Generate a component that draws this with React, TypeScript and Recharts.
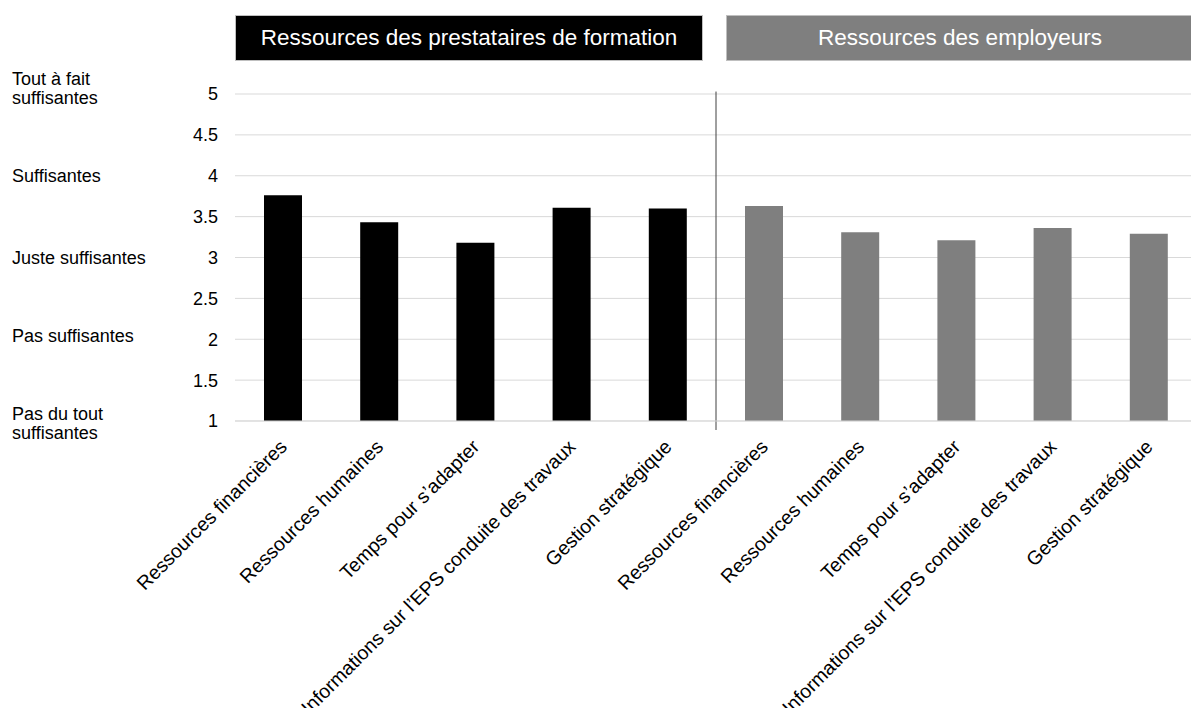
import React from 'react';
import {
  BarChart,
  Bar,
  Cell,
  XAxis,
  YAxis,
  CartesianGrid,
  ReferenceLine,
} from 'recharts';

const categories = [
  'Ressources financières',
  'Ressources humaines',
  'Temps pour s\u2019adapter',
  'Informations sur l\u2019EPS conduite des travaux',
  'Gestion stratégique',
];

const prestataires = [3.76, 3.43, 3.18, 3.61, 3.6];
const employeurs = [3.63, 3.31, 3.21, 3.36, 3.29];

const groupTitles = ['Ressources des prestataires de formation', 'Ressources des employeurs'];
const groupColors = ['#000000', '#7f7f7f'];

const yTicks = [1, 1.5, 2, 2.5, 3, 3.5, 4, 4.5, 5];
const scaleLabels: Record<number, string[]> = {
  5: ['Tout à fait', 'suffisantes'],
  4: ['Suffisantes'],
  3: ['Juste suffisantes'],
  2: ['Pas suffisantes'],
  1: ['Pas du tout', 'suffisantes'],
};
// small vertical nudges so the scale labels sit like in the source
const labelShift: Record<number, number> = { 5: -6, 4: 0, 3: 0, 2: -4, 1: 2 };

const rows = [
  ...prestataires.map((v, i) => ({ idx: i, label: categories[i], value: v, group: 0 })),
  ...employeurs.map((v, i) => ({ idx: i + 5, label: categories[i], value: v, group: 1 })),
];

const FONT = '"Liberation Sans", Arial, sans-serif';

const YTick = (props: any) => {
  const { x, y, payload } = props;
  const lines = scaleLabels[payload.value];
  const shift = labelShift[payload.value] || 0;
  return (
    <g>
      <text x={x} y={y} dy="0.36em" textAnchor="end" fill="#000" fontSize={18} fontFamily={FONT}>
        {payload.value}
      </text>
      {lines &&
        lines.map((l, i) => (
          <text
            key={i}
            x={12}
            y={y + shift + (i - (lines.length - 1) / 2) * 19}
            dy="0.36em"
            fill="#000"
            fontSize={18}
            fontFamily={FONT}
          >
            {l}
          </text>
        ))}
    </g>
  );
};

const XTick = (props: any) => {
  const { x, y, payload } = props;
  const row = rows[payload.value];
  if (!row) return null;
  return (
    <text
      transform={`translate(${x + 5},${y + 27}) rotate(-45)`}
      textAnchor="end"
      fill="#000"
      fontSize={19.5}
      fontFamily={FONT}
    >
      {row.label}
    </text>
  );
};

const headerStyle = (i: number): React.CSSProperties => ({
  position: 'absolute',
  top: 15,
  left: i === 0 ? 235 : 726,
  width: 468,
  height: 46,
  boxSizing: 'border-box',
  background: groupColors[i],
  border: '1px solid #bfbfbf',
  color: '#fff',
  fontFamily: FONT,
  fontSize: 22.5,
  display: 'flex',
  alignItems: 'center',
  justifyContent: 'center',
});

const App: React.FC = () => {
  return (
    <div
      style={{
        position: 'absolute',
        top: 0,
        left: 0,
        width: 1191,
        height: 708,
        overflow: 'hidden',
        background: '#fff',
      }}
    >
      <BarChart
        width={1200}
        height={708}
        data={rows}
        margin={{ top: 94, right: 3, left: 0, bottom: 0 }}
      >
        <CartesianGrid vertical={false} stroke="#d9d9d9" />
        <XAxis
          dataKey="idx"
          type="number"
          domain={[-0.5, 9.5]}
          ticks={[0, 1, 2, 3, 4, 5, 6, 7, 8, 9]}
          interval={0}
          height={287}
          tickLine={false}
          tickSize={0}
          tickMargin={0}
          axisLine={{ stroke: '#d9d9d9' }}
          tick={<XTick />}
        />
        <YAxis
          width={235}
          domain={[1, 5]}
          ticks={yTicks}
          interval={0}
          axisLine={false}
          tickLine={false}
          tickSize={0}
          tickMargin={17}
          tick={<YTick />}
        />
        <Bar dataKey="value" barSize={38} isAnimationActive={false}>
          {rows.map((r) => (
            <Cell key={r.idx} fill={groupColors[r.group]} />
          ))}
        </Bar>
        <ReferenceLine
          segment={[
            { x: 4.5, y: 5.03 },
            { x: 4.5, y: 0.89 },
          ]}
          stroke="#404040"
          ifOverflow="visible"
        />
      </BarChart>
      {groupTitles.map((t, i) => (
        <div key={t} style={headerStyle(i)}>
          {t}
        </div>
      ))}
    </div>
  );
};

export default App;
